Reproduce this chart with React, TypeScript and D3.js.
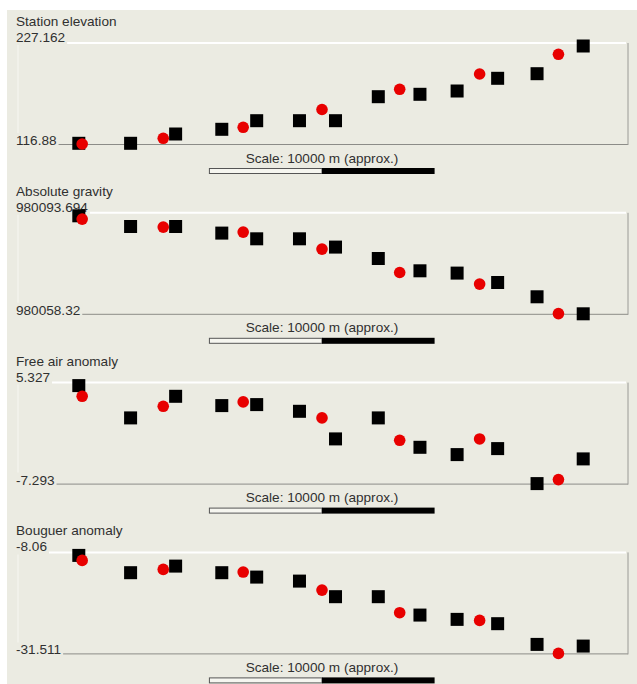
import React, { useEffect, useRef } from "react";
import * as d3 from "d3";

// Station distances along the profile (metres)
const squareDist = [2700, 5000, 7000, 9050, 10600, 12500, 14100, 16000, 17850, 19500, 21300, 23050, 25100];
const circleDist = [2850, 6450, 10000, 13500, 16950, 20500, 24000];

const panelTitles = ["Station elevation", "Absolute gravity", "Free air anomaly", "Bouguer anomaly"];
const maxLabels = ["227.162", "980093.694", "5.327", "-8.06"];
const minLabels = ["116.88", "980058.32", "-7.293", "-31.511"];

const elevSquares = [117.67, 117.67, 128.13, 133.42, 143.1, 143.1, 143.1, 170.11, 172.81, 176.52, 190.81, 195.99, 227.162];
const elevCircles = [116.88, 123.29, 135.67, 155.7, 178.43, 195.65, 217.82];

const gravitySquares = [980093.694, 980089.83, 980089.83, 980087.45, 980085.39, 980085.39, 980082.4, 980078.28, 980073.84, 980073.01, 980069.62, 980064.46, 980058.32];
const gravityCircles = [980092.5, 980089.62, 980087.81, 980081.67, 980073.23, 980069.04, 980058.4];

const freeAirSquares = [5.327, 1.167, 3.949, 2.752, 2.881, 2.018, -1.537, 1.167, -2.618, -3.558, -2.786, -7.293, -4.112];
const freeAirCircles = [3.95, 2.662, 3.228, 1.17, -1.717, -1.54, -6.778];

const bouguerSquares = [-8.06, -12.2, -10.62, -12.2, -13.25, -14.21, -17.94, -17.94, -22.34, -23.37, -24.4, -29.36, -29.76];
const bouguerCircles = [-9.26, -11.41, -12.05, -16.36, -21.77, -23.61, -31.511];

const scaleText = "Scale: 10000 m (approx.)";
const scaleLength = 10000;

const W = 637;
const H = 684;
const BG = "#EBEBE2";
const FONT = "'Liberation Sans', Arial, sans-serif";

export default function App() {
  const ref = useRef<SVGSVGElement | null>(null);

  useEffect(() => {
    const svg = d3.select(ref.current);
    svg.selectAll("*").remove();

    svg.append("rect").attr("x", 0).attr("y", 0).attr("width", W).attr("height", H).attr("fill", "#ffffff");
    svg.append("rect").attr("x", 7).attr("y", 10).attr("width", W - 7).attr("height", H - 10).attr("fill", BG);

    const plotLeft = 18;
    const plotRight = 626;
    const plotTop = 43;
    const plotBottom = 144;

    const x = d3.scaleLinear().domain([0, 27000]).range([plotLeft, plotRight]);

    const panels = [
      { sq: elevSquares, ci: elevCircles },
      { sq: gravitySquares, ci: gravityCircles },
      { sq: freeAirSquares, ci: freeAirCircles },
      { sq: bouguerSquares, ci: bouguerCircles },
    ];

    panels.forEach((p, i) => {
      const g = svg.append("g").attr("transform", `translate(0,${i * 169.8})`);
      const all = p.sq.concat(p.ci);
      const y = d3
        .scaleLinear()
        .domain([d3.min(all) as number, d3.max(all) as number])
        .range([plotBottom, plotTop + 3]);

      // frame
      g.append("line").attr("x1", plotLeft).attr("x2", plotRight).attr("y1", plotTop).attr("y2", plotTop)
        .attr("stroke", "#ffffff").attr("stroke-width", 2);
      g.append("line").attr("x1", plotLeft).attr("x2", plotLeft).attr("y1", plotTop).attr("y2", plotBottom)
        .attr("stroke", "#f7f7f2").attr("stroke-width", 1);
      g.append("line").attr("x1", plotLeft).attr("x2", plotRight + 2).attr("y1", plotBottom + 0.5).attr("y2", plotBottom + 0.5)
        .attr("stroke", "#8c8c88").attr("stroke-width", 1);
      g.append("line").attr("x1", plotRight + 2).attr("x2", plotRight + 2).attr("y1", plotTop).attr("y2", plotBottom + 1)
        .attr("stroke", "#9a9a96").attr("stroke-width", 1);

      // title
      g.append("text").attr("x", 16).attr("y", 26).text(panelTitles[i])
        .attr("font-family", FONT).attr("font-size", 13.6).attr("fill", "#303030");

      // max / min labels with background
      const addLabel = (txt: string, baseline: number) => {
        const bg = g.append("rect").attr("fill", BG);
        const t = g.append("text").attr("x", 16).attr("y", baseline).text(txt)
          .attr("font-family", FONT).attr("font-size", 13.6).attr("fill", "#303030");
        const node = t.node() as SVGTextElement;
        const w = node.getComputedTextLength();
        bg.attr("x", 14).attr("y", baseline - 12).attr("width", w + 4).attr("height", 15);
      };
      addLabel(maxLabels[i], 42);
      addLabel(minLabels[i], 145);

      // scale
      g.append("text").attr("x", (plotLeft + plotRight) / 2).attr("y", 162.5).attr("text-anchor", "middle")
        .text(scaleText).attr("font-family", FONT).attr("font-size", 13.6).attr("fill", "#303030");
      const mid = (plotLeft + plotRight) / 2;
      const half = x(scaleLength / 2) - x(0);
      g.append("rect").attr("x", mid - half).attr("y", 168.5).attr("width", half).attr("height", 5)
        .attr("fill", "#f6f6f0").attr("stroke", "#555").attr("stroke-width", 1);
      g.append("rect").attr("x", mid).attr("y", 168).attr("width", half).attr("height", 6)
        .attr("fill", "#000");

      // squares
      const s = 13;
      g.selectAll("rect.sq").data(p.sq).enter().append("rect").attr("class", "sq")
        .attr("x", (_d, j) => x(squareDist[j]) - s / 2)
        .attr("y", (d) => y(d) - s / 2)
        .attr("width", s).attr("height", s).attr("fill", "#000");

      // circles
      g.selectAll("circle.ci").data(p.ci).enter().append("circle").attr("class", "ci")
        .attr("cx", (_d, j) => x(circleDist[j]))
        .attr("cy", (d) => y(d))
        .attr("r", 5.8).attr("fill", "#e80000");
    });
  }, []);

  return (
    <svg
      ref={ref}
      width={W}
      height={H}
      style={{ position: "absolute", left: 0, top: 0, display: "block" }}
    />
  );
}
